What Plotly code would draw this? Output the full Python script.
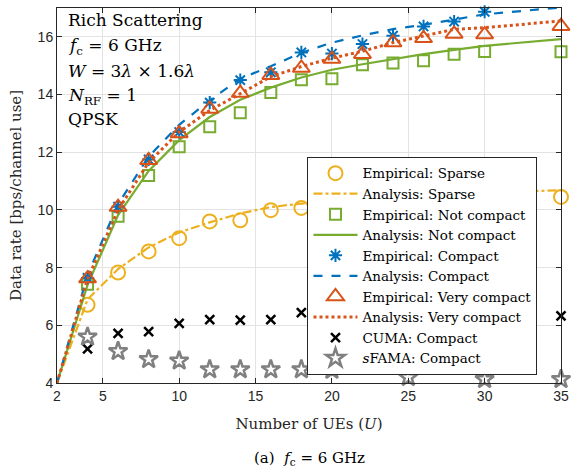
import plotly.graph_objects as go

# Number of UEs at which the empirical rates were simulated
u_emp = [4, 6, 8, 10, 12, 14, 16, 18, 20, 22, 24, 26, 28, 30, 35]
# Grid used for the analytical curves
u_ana = [2, 4, 6, 8, 10, 12, 14, 16, 18, 20, 22, 24, 26, 28, 30, 35]
# Baseline schemes were only evaluated on a coarser grid
u_base = [4, 6, 8, 10, 12, 14, 16, 18, 20, 25, 30, 35]

emp_sparse = [6.71, 7.83, 8.56, 9.02, 9.60, 9.64, 9.99, 10.07, 10.15, 10.22, 10.28, 10.33, 10.38, 10.40, 10.45]
ana_sparse = [4.0, 6.9, 7.95, 8.70, 9.22, 9.57, 9.88, 10.10, 10.22, 10.32, 10.40, 10.47, 10.52, 10.57, 10.61, 10.68]

emp_notcompact = [7.42, 9.78, 11.19, 12.19, 12.88, 13.37, 14.07, 14.51, 14.55, 15.03, 15.09, 15.17, 15.40, 15.49, 15.48]
ana_notcompact = [4.0, 7.40, 9.82, 11.35, 12.42, 13.22, 13.82, 14.24, 14.59, 14.86, 15.05, 15.23, 15.40, 15.55, 15.69, 15.92]

emp_compact = [7.64, 10.11, 11.75, 12.70, 13.72, 14.50, 14.77, 15.46, 15.42, 15.75, 16.04, 16.36, 16.53, 16.87, 17.03]
ana_compact = [4.0, 7.75, 10.20, 11.85, 12.95, 13.80, 14.55, 14.98, 15.45, 15.80, 16.05, 16.27, 16.42, 16.60, 16.78, 17.02]

emp_verycompact = [7.62, 10.10, 11.72, 12.65, 13.50, 14.05, 14.67, 14.92, 15.23, 15.40, 15.80, 15.95, 16.10, 16.08, 16.37]
ana_verycompact = [4.0, 7.60, 10.00, 11.65, 12.70, 13.45, 14.03, 14.62, 14.97, 15.26, 15.50, 15.80, 16.03, 16.26, 16.32, 16.55]

cuma_compact = [5.18, 5.72, 5.78, 6.07, 6.20, 6.18, 6.20, 6.44, 6.30, 6.35, 6.30, 6.33]
sfama_compact = [5.60, 5.10, 4.82, 4.77, 4.47, 4.47, 4.47, 4.47, 4.45, 4.20, 4.13, 4.13]

x_ticks = [2, 5, 10, 15, 20, 25, 30, 35]
y_ticks = [4, 6, 8, 10, 12, 14, 16, 17]

C_SPARSE = "#EDB120"
C_NOTC = "#77AC30"
C_COMP = "#0072BD"
C_VERY = "#D95319"
SERIF = "DejaVu Serif"
SANS = "Liberation Sans"
INK = "#262626"

fig = go.Figure()

def markers(x, y, name, symbol, color, size, width=2):
    fig.add_trace(go.Scatter(
        x=x, y=y, name=name, mode="markers", cliponaxis=False,
        marker=dict(symbol=symbol, size=size, color=color,
                    line=dict(color=color, width=width)),
    ))

def curve(x, y, name, color, dash, width=2.2):
    fig.add_trace(go.Scatter(
        x=x, y=y, name=name, mode="lines", cliponaxis=False,
        line=dict(color=color, dash=dash, width=width),
    ))

markers(u_emp, emp_sparse, "Empirical: Sparse", "circle-open", C_SPARSE, 14)
curve(u_ana, ana_sparse, "Analysis: Sparse", C_SPARSE, "dashdot")
markers(u_emp, emp_notcompact, "Empirical: Not compact", "square-open", C_NOTC, 11)
curve(u_ana, ana_notcompact, "Analysis: Not compact", C_NOTC, "solid")
markers(u_emp, emp_compact, "Empirical: Compact", "asterisk-open", C_COMP, 11, 2)
curve(u_ana, ana_compact, "Analysis: Compact", C_COMP, "dash")
markers(u_emp, emp_verycompact, "Empirical: Very compact", "triangle-up-open", C_VERY, 15)
curve(u_ana, ana_verycompact, "Analysis: Very compact", C_VERY, "dot", 3)
markers(u_base, cuma_compact, "CUMA: Compact", "x-thin-open", "black", 9, 2.5)
markers(u_base, sfama_compact, "<i>s</i>FAMA: Compact", "star-open", "#808080", 14, 2.5)

axis_common = dict(
    showline=True, linecolor=INK, linewidth=1, mirror="ticks",
    ticks="inside", ticklen=5, tickcolor=INK,
    showgrid=True, gridcolor="#E3E3E3", gridwidth=1, zeroline=False,
    tickfont=dict(family=SANS, size=14, color=INK),
)

fig.update_xaxes(
    range=[2, 35], tickvals=x_ticks, ticktext=[str(v) for v in x_ticks],
    title=dict(text="Number of UEs (<i>U</i>)", font=dict(family=SERIF, size=15, color=INK), standoff=15),
    **axis_common,
)
fig.update_yaxes(
    range=[4, 17], tickvals=y_ticks, ticktext=[str(v) for v in y_ticks],
    title=dict(text="Data rate [bps/channel use]", font=dict(family=SERIF, size=15, color=INK), standoff=12),
    **axis_common,
)

# Simulation settings, stacked in the upper-left corner of the axes
info_lines = [
    "Rich Scattering",
    "<i>f</i><sub>c</sub> = 6 GHz",
    "<i>W</i> = 3<i>λ</i> × 1.6<i>λ</i>",
    "<i>N</i><sub>RF</sub> = 1",
    "QPSK",
]
info_y = [16.60, 15.68, 14.82, 13.92, 13.14]
for txt, yy in zip(info_lines, info_y):
    fig.add_annotation(x=2.6, y=yy, xref="x", yref="y", text=txt, showarrow=False,
                       xanchor="left", yanchor="middle",
                       font=dict(family=SERIF, size=17, color="black"))

fig.add_annotation(x=0.5, y=-0.2, xref="paper", yref="paper",
                   text="(a)  <i>f</i><sub>c</sub> = 6 GHz", showarrow=False,
                   xanchor="center", yanchor="middle",
                   font=dict(family=SERIF, size=15, color="black"))

fig.update_layout(
    width=576, height=475,
    margin=dict(l=57, r=10, t=7, b=92),
    paper_bgcolor="white", plot_bgcolor="white",
    showlegend=True,
    legend=dict(
        x=0.497, y=0.603, xanchor="left", yanchor="top",
        bgcolor="white", bordercolor=INK, borderwidth=1,
        font=dict(family=SERIF, size=13.5, color="black"),
        itemwidth=44, tracegroupgap=0,
    ),
)

fig.write_html("out.html")
